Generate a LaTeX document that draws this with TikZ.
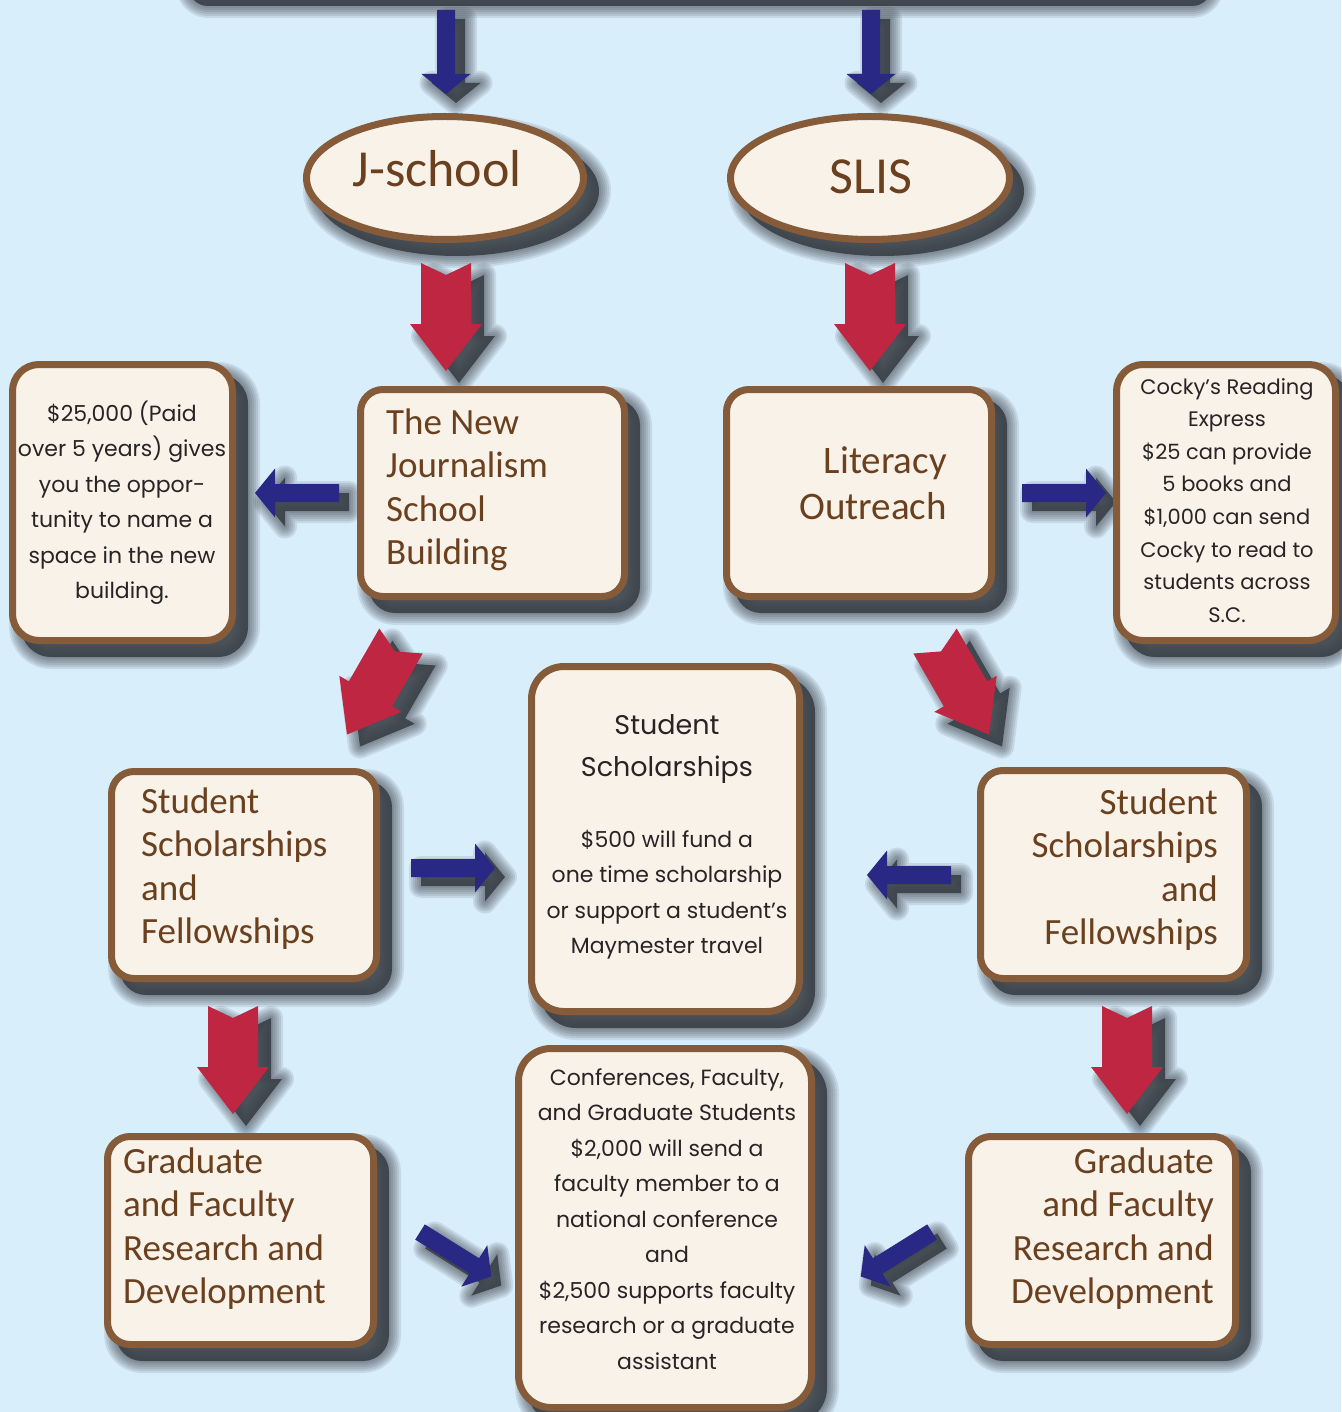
\documentclass[tikz,border=0pt]{standalone}
\usepackage{fontspec}
\newfontfamily\headf{Carlito}
\newfontfamily\bodyf{Poppins}
\usetikzlibrary{shapes.geometric}
\definecolor{bgc}{RGB}{217,238,251}
\definecolor{boxfill}{RGB}{248,242,233}
\definecolor{boxline}{RGB}{133,91,57}
\definecolor{headc}{RGB}{107,64,30}
\definecolor{bodyc}{RGB}{40,36,37}
\definecolor{redc}{RGB}{190,38,66}
\definecolor{bluec}{RGB}{42,40,133}
\definecolor{shadowc}{RGB}{58,64,72}
\pgfdeclarelayer{shadowlayer}
\pgfsetlayers{shadowlayer,main}

\newcommand{\softshadow}[1]{%
  \fill[shadowc, opacity=0.9] #1;
  \foreach \w in {4,8,12,16,20,24}{\draw[shadowc,opacity=0.12,line width=\w pt,line join=round] #1;}%
}
\newcommand{\redshape}{(-25,0) -- (0,12) -- (25,0) -- (25,61) -- (36,61) -- (0,108) -- (-36,61) -- (-25,61) -- cycle}
\newcommand{\blueshape}{(0,-9) -- (64,-9) -- (64,-24.5) -- (84,0) -- (64,24.5) -- (64,9) -- (0,9) -- cycle}

\newcommand{\boxit}[6]{%
  \begin{pgfonlayer}{shadowlayer}
    \softshadow{[rounded corners=#6pt] ({#2+12},{#3+13}) rectangle ({#4+12},{#5+13})}
  \end{pgfonlayer}
  \node[boxst, rounded corners={#6-3.5}, minimum width={#4-#2-7}, minimum height={#5-#3-7}] (#1) at ({(#2+#4)/2},{(#3+#5)/2}) {};
}
\newcommand{\redarrow}[3]{%
  \begin{pgfonlayer}{shadowlayer}
    \begin{scope}[shift={(#1,#2)},shift={(13,12)},rotate=#3]
      \softshadow{\redshape}
    \end{scope}
  \end{pgfonlayer}
  \begin{scope}[shift={(#1,#2)},rotate=#3]
    \fill[redc] \redshape;
  \end{scope}
}
\newcommand{\bluearrow}[3]{%
  \begin{pgfonlayer}{shadowlayer}
    \begin{scope}[shift={(#1,#2)},shift={(10,9)},rotate=#3]
      \softshadow{\blueshape}
    \end{scope}
  \end{pgfonlayer}
  \begin{scope}[shift={(#1,#2)},rotate=#3]
    \fill[bluec] \blueshape;
  \end{scope}
}

\tikzset{
  boxst/.style={draw=boxline, line width=7pt, fill=boxfill, inner sep=0pt, outer sep=0pt},
  ellst/.style={ellipse, draw=boxline, line width=7pt, fill=boxfill, inner sep=0pt, outer sep=0pt},
  headt/.style={inner sep=0pt, text=headc, font=\headf\fontsize{37}{43.5}\selectfont},
  litt/.style={inner sep=0pt, text=headc, font=\headf\fontsize{39}{46}\selectfont},
  bigt/.style={inner sep=0pt, text=headc, font=\headf\fontsize{52}{60}\selectfont},
  bodyt/.style={inner sep=0pt, text=bodyc, font=\bodyf\fontsize{22}{35.5}\selectfont},
  smallt/.style={inner sep=0pt, text=bodyc, font=\bodyf\fontsize{21}{32.6}\selectfont},
  midhead/.style={inner sep=0pt, text=bodyc, font=\bodyf\fontsize{27}{42}\selectfont},
}

\begin{document}
\begin{tikzpicture}[x=1pt,y=-1pt]
\useasboundingbox (0,0) rectangle (1341,1412);
\begin{pgfonlayer}{shadowlayer}
  \fill[bgc] (0,0) rectangle (1341,1412);
  \softshadow{[rounded corners=20pt] (188,-120) rectangle (1212,6)}
  \softshadow{(457,191) ellipse [x radius=142pt, y radius=65pt]}
  \softshadow{(882,191) ellipse [x radius=142pt, y radius=65pt]}
\end{pgfonlayer}

% ellipses
\node[ellst, minimum width=277pt, minimum height=123pt] (js) at (445,178) {};
\node[ellst, minimum width=279pt, minimum height=123pt] (slis) at (870,178) {};
\node[bigt, anchor=base] (jst) at (437,187) {J-school};
\node[bigt, anchor=base] (slist) at (871,194) {SLIS};

% boxes
\boxit{money}{9}{361}{236}{644}{30}
\boxit{jsb}{357}{386}{628}{600}{26}
\boxit{lit}{723}{386}{995}{600}{26}
\boxit{cocky}{1113}{361}{1339}{644}{30}
\boxit{ssl}{108}{768}{380}{982}{26}
\boxit{ssm}{528}{663}{803}{1015}{36}
\boxit{ssr}{977}{767}{1250}{982}{26}
\boxit{gfl}{104}{1133}{377}{1348}{26}
\boxit{conf}{515}{1045}{815}{1411}{36}
\boxit{gfr}{965}{1133}{1239}{1348}{26}

% arrows
\bluearrow{446}{10}{-90}
\bluearrow{871}{10}{-90}
\redarrow{446}{263}{0}
\redarrow{870}{263}{0}
\bluearrow{339}{493}{180}
\bluearrow{1022}{493}{0}
\redarrow{401}{641}{-30}
\redarrow{935}{641}{30}
\bluearrow{411}{868}{0}
\bluearrow{951}{875}{180}
\redarrow{233}{1006}{0}
\redarrow{1127}{1006}{0}
\bluearrow{420}{1232}{-32}
\bluearrow{932}{1232}{212}

% texts
\node[headt, anchor=base west] (jsbt) at (386,434) {\parbox[t]{300pt}{\raggedright The New\\Journalism\\School\\Building}};
\node[litt, anchor=base east] (litt) at (947,473) {\parbox[t]{300pt}{\raggedleft Literacy\\Outreach}};
\node[bodyt, anchor=base] (moneyt) at (122,421) {\parbox[t]{300pt}{\centering \$25,000 (Paid\\over 5 years) gives\\you the oppor-\\tunity to name a\\space in the new\\building.}};
\node[smallt, anchor=base] (cockyt) at (1227,394) {\parbox[t]{300pt}{\centering Cocky’s Reading\\Express\\\$25 can provide\\5 books and\\\$1,000 can send\\Cocky to read to\\students across\\S.C.}};
\node[headt, anchor=base west] (sslt) at (141,813) {\parbox[t]{300pt}{\raggedright Student\\Scholarships\\and\\Fellowships}};
\node[midhead, anchor=base] (ssmh) at (667,734) {\parbox[t]{300pt}{\centering Student\\Scholarships}};
\node[bodyt, anchor=base] (ssmt) at (667,847) {\parbox[t]{300pt}{\centering \$500 will fund a\\one time scholarship\\or support a student’s\\Maymester travel}};
\node[headt, anchor=base east] (ssrt) at (1218,814) {\parbox[t]{300pt}{\raggedleft Student\\Scholarships\\and\\Fellowships}};
\node[headt, anchor=base west] (gflt) at (123,1173) {\parbox[t]{300pt}{\raggedright Graduate\\and Faculty\\Research and\\Development}};
\node[bodyt, anchor=base] (conft) at (667,1085) {\parbox[t]{320pt}{\centering Conferences, Faculty,\\and Graduate Students\\\$2,000 will send a\\faculty member to a\\national conference\\and\\\$2,500 supports faculty\\research or a graduate\\assistant}};
\node[headt, anchor=base east] (gfrt) at (1214,1173) {\parbox[t]{300pt}{\raggedleft Graduate\\and Faculty\\Research and\\Development}};
\end{tikzpicture}
\end{document}
